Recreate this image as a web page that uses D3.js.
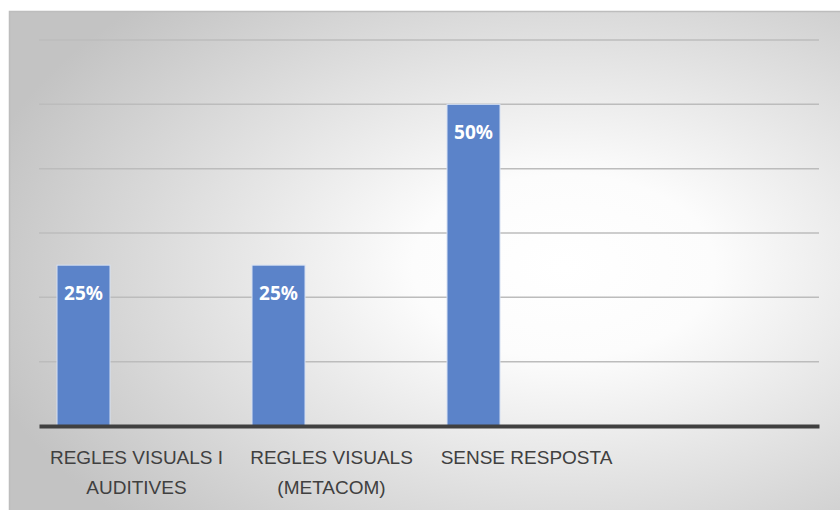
<!DOCTYPE html>
<html>
<head>
<meta charset="utf-8">
<script src="https://cdn.jsdelivr.net/npm/d3@7"></script>
<style>
  body { margin: 0; background: #fff; }
  svg { display: block; font-family: "Noto Sans", "Open Sans", sans-serif; }
</style>
</head>
<body>
<svg width="840" height="510"></svg>
<script>
// categories (the 4th slot is empty, as in the original chart)
var categories = ["REGLES VISUALS I\nAUDITIVES", "REGLES VISUALS\n(METACOM)", "SENSE RESPOSTA", ""];
// three series slots per category, only the first one carries values
var seriesNames = ["Serie 1", "Serie 2", "Serie 3"];
var values = [0.25, 0.25, 0.5];
var yTicks = [0, 0.1, 0.2, 0.3, 0.4, 0.5, 0.6];

var svg = d3.select("svg"),
  margin = { top: 40, right: 21, bottom: 84, left: 39 },
  width = +svg.attr("width") - margin.left - margin.right,
  height = +svg.attr("height") - margin.top - margin.bottom;

// background with radial gradient
var defs = svg.append("defs");
var grad = defs.append("radialGradient")
  .attr("id", "bg")
  .attr("cx", 0.66).attr("cy", 0.5)
  .attr("fx", 0.66).attr("fy", 0.5)
  .attr("r", 0.72);
grad.append("stop").attr("offset", "0%").attr("stop-color", "#ffffff");
grad.append("stop").attr("offset", "25%").attr("stop-color", "#fcfcfc");
grad.append("stop").attr("offset", "100%").attr("stop-color", "#c3c3c3");

svg.append("rect")
  .attr("x", 9.5).attr("y", 11.5)
  .attr("width", 840).attr("height", 510)
  .attr("fill", "url(#bg)")
  .attr("stroke", "#bdbdbd")
  .attr("stroke-width", 1.5);

var g = svg.append("g")
  .attr("transform", "translate(" + margin.left + "," + margin.top + ")");

var x = d3.scaleBand().domain(categories).range([0, width]).padding(0);
var xSeries = d3.scaleBand().domain(seriesNames).range([0, x.bandwidth()])
  .paddingInner(0).paddingOuter(0.34);
var y = d3.scaleLinear().domain([0, 0.6]).range([height, 0]);

// gridlines
g.append("g")
  .selectAll("line")
  .data(yTicks.slice(1))
  .enter()
  .append("line")
  .attr("x1", 0).attr("x2", width)
  .attr("y1", (d) => y(d)).attr("y2", (d) => y(d))
  .attr("stroke", "#bcbcbc")
  .attr("stroke-width", 1.5);

// bars
var data = values.map((v, i) => ({ cat: categories[i], series: seriesNames[0], value: v }));

g.selectAll(".bar")
  .data(data)
  .enter()
  .append("rect")
  .attr("class", "bar")
  .attr("x", (d) => x(d.cat) + xSeries(d.series))
  .attr("y", (d) => y(d.value))
  .attr("width", xSeries.bandwidth())
  .attr("height", (d) => height - y(d.value))
  .attr("fill", "#5b83c9")
  .attr("stroke", "#d6e0f2")
  .attr("stroke-width", 1);

// value labels
g.selectAll(".val")
  .data(data)
  .enter()
  .append("text")
  .attr("class", "val")
  .attr("x", (d) => x(d.cat) + xSeries(d.series) + xSeries.bandwidth() / 2)
  .attr("y", (d) => y(d.value) + 35)
  .attr("text-anchor", "middle")
  .attr("fill", "#ffffff")
  .attr("font-weight", "bold")
  .attr("font-size", "19px")
  .text((d) => d3.format(".0%")(d.value));

// x axis
var xAxis = g.append("g")
  .attr("transform", "translate(0," + height + ")")
  .call(d3.axisBottom(x).tickSize(0).tickFormat(""));
xAxis.select(".domain")
  .attr("stroke", "#404040")
  .attr("stroke-width", 4);

xAxis.selectAll(".tick text").remove();
xAxis.selectAll(".tick")
  .append("text")
  .attr("fill", "#404040")
  .attr("font-size", "19px")
  .attr("text-anchor", "middle")
  .each(function (d) {
    var lines = d.split("\n");
    var t = d3.select(this);
    lines.forEach(function (line, i) {
      t.append("tspan")
        .attr("x", 0)
        .attr("y", 38 + i * 30)
        .text(line);
    });
  });
</script>
</body>
</html>
